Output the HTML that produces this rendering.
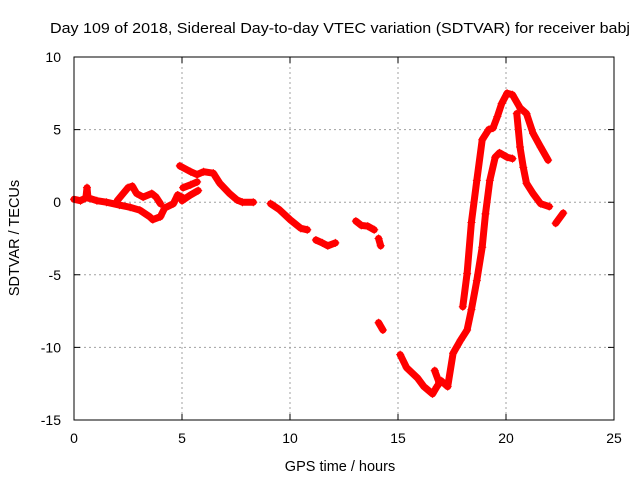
<!DOCTYPE html>
<html><head><meta charset="utf-8"><style>
body{margin:0;background:#fff}
svg{display:block;font-family:"Liberation Sans",sans-serif}
</style></head><body>
<svg id="chart" width="640" height="480" viewBox="0 0 640 480">
<rect width="640" height="480" fill="#fff"/>
<text x="50" y="33" font-size="14.5" textLength="580" lengthAdjust="spacingAndGlyphs">Day 109 of 2018, Sidereal Day-to-day VTEC variation (SDTVAR) for receiver babj</text>
<g id="grid"></g>
<g id="ticks"></g>
<g id="marks"></g>
<rect x="74" y="57" width="540" height="363" fill="none" stroke="#000" stroke-width="1"/>
<text x="340" y="471" font-size="14.5" text-anchor="middle">GPS time / hours</text>
<text transform="translate(19,238) rotate(-90)" font-size="14.5" text-anchor="middle">SDTVAR / TECUs</text>
</svg>
<script>
const xTicks=[0,5,10,15,20,25];
const yTicks=[10,5,0,-5,-10,-15];
const seg1T=[0,0.3,0.55,0.6,0.65,1.06,1.5,2.1,2.6,3.05,3.5,3.65,4.0,4.2,4.6,4.8,5.05];
const seg1V=[0.2,0.1,0.3,1.0,0.3,0.1,0,-0.2,-0.35,-0.55,-1.0,-1.2,-1.0,-0.4,-0.1,0.5,0.3];
const seg2T=[2.0,2.5,2.7,2.9,3.2,3.6,3.8,4.0];
const seg2V=[0.1,1.0,1.1,0.6,0.35,0.6,0.35,-0.1];
const seg3T=[4.9,5.4,5.7,6.0,6.45,6.75,7.2,7.55,7.8,8.3];
const seg3V=[2.5,2.1,1.9,2.1,2.0,1.3,0.6,0.15,0,0];
const seg4T=[5.05,5.4,5.7];
const seg4V=[1.0,1.2,1.4];
const seg5T=[5.0,5.4,5.75];
const seg5V=[0.1,0.5,0.8];
const seg6T=[9.1,9.5,10,10.5,10.8];
const seg6V=[-0.1,-0.5,-1.2,-1.8,-1.9];
const seg7T=[11.2,11.5,11.75,12.1];
const seg7V=[-2.6,-2.8,-3.0,-2.8];
const seg8T=[13.05,13.3,13.6,13.9];
const seg8V=[-1.3,-1.6,-1.65,-1.9];
const seg9T=[14.1,14.2];
const seg9V=[-2.5,-3.0];
const seg10T=[14.1,14.3];
const seg10V=[-8.3,-8.8];
const seg11T=[15.1,15.4,15.9,16.2,16.6,16.8,17.0,17.3,17.55,17.9,18.2,18.4,18.65,18.9,19.05,19.25,19.5,19.7,20.05,20.3];
const seg11V=[-10.5,-11.4,-12.1,-12.7,-13.2,-12.7,-12.3,-12.7,-10.4,-9.5,-8.8,-7.4,-5.4,-3.1,-0.8,1.5,3.1,3.4,3.1,3.0];
const seg12T=[16.7,16.9];
const seg12V=[-11.6,-12.4];
const seg13T=[18.0,18.2,18.4,18.65,18.9,19.2,19.4,19.6,19.8,20.05,20.3,20.65,20.95,21.25,21.6,21.95];
const seg13V=[-7.2,-4.9,-1.4,1.5,4.3,5.0,5.1,5.9,6.8,7.5,7.4,6.5,6.1,4.75,3.8,2.9];
const seg14T=[20.5,20.65,20.8,20.95,21.25,21.6,22.0];
const seg14V=[6.1,3.8,2.4,1.3,0.6,-0.1,-0.3];
const seg15T=[22.3,22.65];
const seg15V=[-1.45,-0.75];

const X0=74,X1=614,Y0=420,Y1=57;
function xs(h){return X0+(h-0)/(25-0)*(X1-X0);}
function ys(v){return Y0-(v+15)/(25)*(Y0-Y1);}
const NS='http://www.w3.org/2000/svg';
const grid=document.getElementById('grid'),ticks=document.getElementById('ticks'),marks=document.getElementById('marks');
function mk(tag,attrs,parent){const e=document.createElementNS(NS,tag);for(const k in attrs)e.setAttribute(k,attrs[k]);parent.appendChild(e);return e;}
xTicks.forEach(t=>{
  const x=xs(t);
  if(t>0&&t<25){const g=mk('line',{x1:x,x2:x,y1:Y1,y2:Y0,stroke:'#a0a0a0','stroke-dasharray':'2,3'},grid);
  
  }
  const tk=mk('path',{d:`M${x},${Y0}v-6M${x},${Y1}v6`,stroke:'#000'},ticks);
  
  
  const l=mk('text',{x:x,y:443,'font-size':14,'text-anchor':'middle'},ticks);l.textContent=t;
  
  
});
yTicks.forEach(t=>{
  const y=ys(t);
  if(t>-15&&t<10){const g=mk('line',{x1:X0,x2:X1,y1:y,y2:y,stroke:'#a0a0a0','stroke-dasharray':'2,3'},grid);
  
  }
  const tk=mk('path',{d:`M${X0},${y}h6M${X1},${y}h-6`,stroke:'#000'},ticks);
  
  
  const l=mk('text',{x:61,y:y+5,'font-size':14,'text-anchor':'end'},ticks);l.textContent=t;
  
  
});
const segs=[[seg1T,seg1V],[seg2T,seg2V],[seg3T,seg3V],[seg4T,seg4V],[seg5T,seg5V],[seg6T,seg6V],[seg7T,seg7V],[seg8T,seg8V],[seg9T,seg9V],[seg10T,seg10V],[seg11T,seg11V],[seg12T,seg12V],[seg13T,seg13V],[seg14T,seg14V],[seg15T,seg15V]];
segs.forEach(([T,V])=>{
  const pts=T.map((t,i)=>xs(t).toFixed(1)+','+ys(V[i]).toFixed(1)).join(' ');
  const pl=mk('polyline',{points:pts,fill:'none',stroke:'#f00','stroke-width':7,'stroke-linejoin':'round','stroke-linecap':'round'},marks);
  
  
  T.forEach((t,i)=>{
    const x=xs(t),y=ys(V[i]);
    const p=mk('path',{d:`M${x-4},${y}h8M${x},${y-4}v8`,stroke:'#f00','stroke-width':1},marks);
    
    
  });
});
</script>
</body></html>
